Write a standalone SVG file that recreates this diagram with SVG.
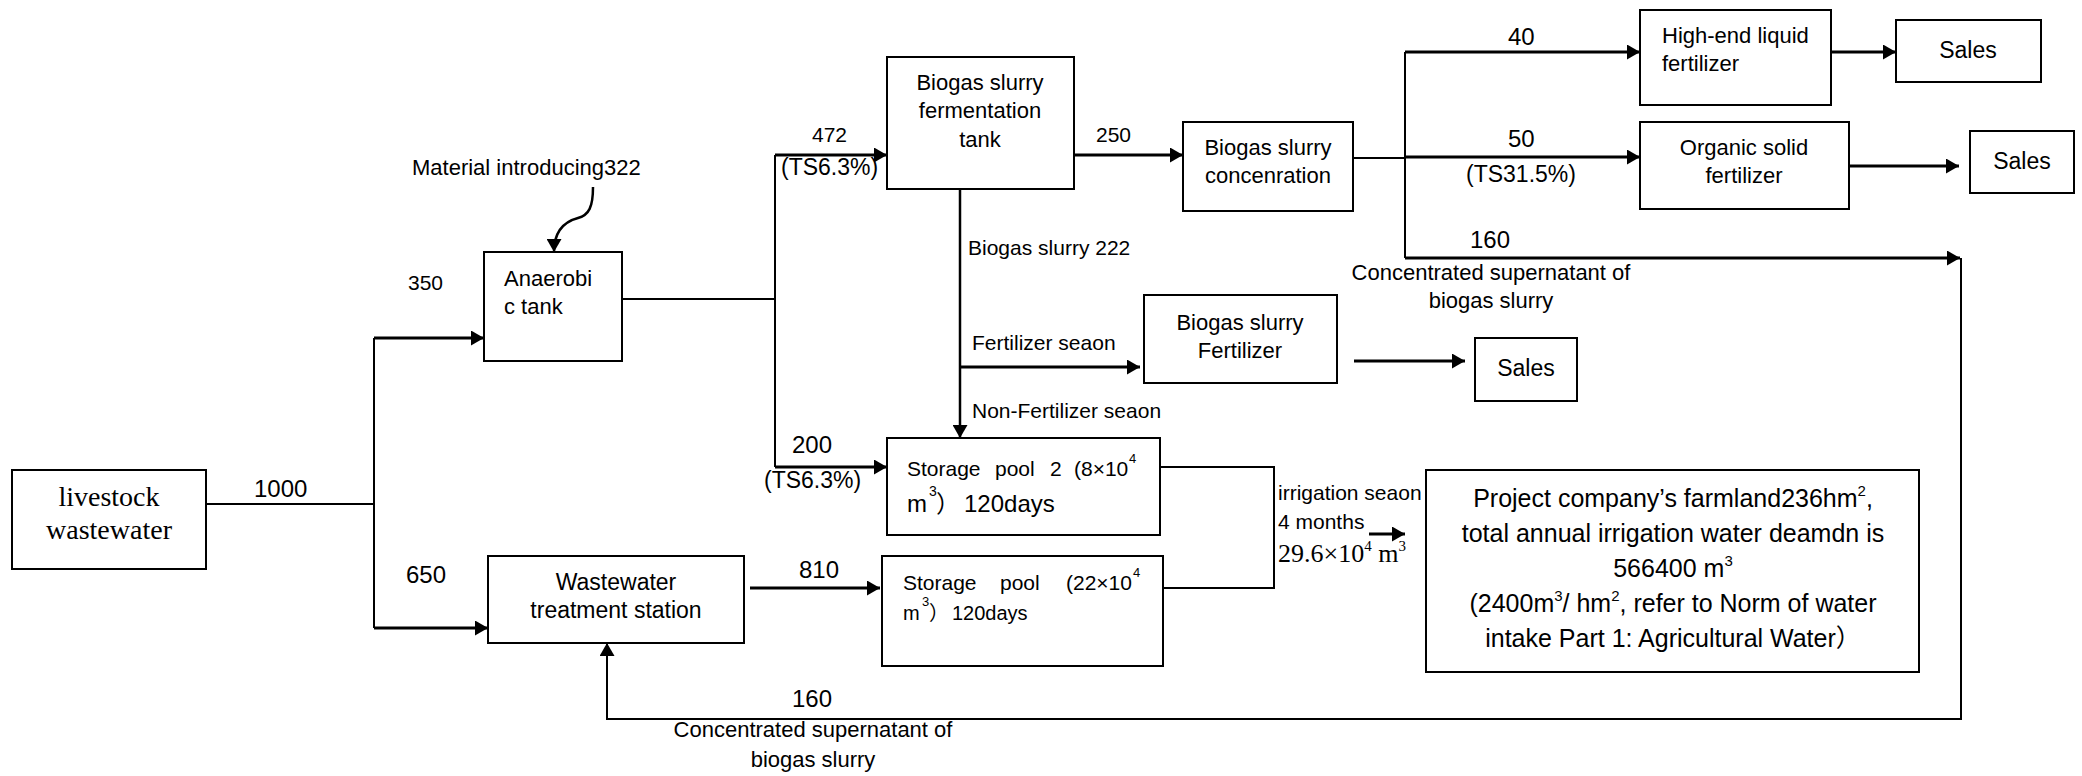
<svg xmlns="http://www.w3.org/2000/svg" width="2082" height="776" viewBox="0 0 2082 776">
<style>
.box{fill:#fff;stroke:#000;stroke-width:2}
.ln{fill:none;stroke:#000;stroke-width:2}
.ar{fill:none;stroke:#000;stroke-width:3;marker-end:url(#ah)}
text{font-family:"Liberation Sans","Noto Sans CJK SC",sans-serif;fill:#000}
.t22{font-size:22px}
.t21{font-size:21px}
.t24{font-size:24px}
.c{text-anchor:middle}
.serif{font-family:"Liberation Serif","Noto Serif CJK SC",serif}
</style>
<defs>
<marker id="ah" viewBox="0 0 13 15" refX="13" refY="7.5" markerWidth="13" markerHeight="15" markerUnits="userSpaceOnUse" orient="auto">
<path d="M0,0 L13,7.5 L0,15 z" fill="#000"/>
</marker>
</defs>
<rect width="2082" height="776" fill="#fff"/>

<g id="connectors">
<path class="ln" d="M206,504 H374"/>
<path class="ln" d="M374,338 V628"/>
<path class="ar" d="M374,338 H484"/>
<path class="ar" d="M374,628 H488"/>
<path class="ln" style="stroke-width:2.5;marker-end:url(#ah)" d="M593,187 C593,207 589,215 578,218 C563,222 554,232 554,252"/>
<path class="ln" d="M622,299 H775"/>
<path class="ln" d="M775,155 V467"/>
<path class="ar" d="M775,155 H887"/>
<path class="ar" d="M775,467 H887"/>
<path class="ar" d="M1074,155 H1183"/>
<path class="ar" style="stroke-width:2.5" d="M960,189 V438"/>
<path class="ar" d="M960,367 H1140"/>
<path class="ar" d="M1354,361 H1465"/>
<path class="ln" d="M1353,158 H1405"/>
<path class="ln" d="M1405,52 V258"/>
<path class="ar" d="M1405,52 H1640"/>
<path class="ar" d="M1405,157 H1640"/>
<path class="ar" d="M1831,52 H1896"/>
<path class="ar" d="M1849,166 H1959"/>
<path class="ar" d="M1405,258 H1960"/>
<path class="ln" style="marker-end:url(#ah)" d="M1961,258 V719 H607 V643"/>
<path class="ar" d="M750,588 H880"/>
<path class="ln" d="M1160,467 H1274 V588 H1163"/>
<path class="ar" d="M1369,534 H1405"/>
</g>

<g id="livestock">
<rect class="box" x="12" y="470" width="194" height="99"/>
<text class="serif c" x="109" y="506" font-size="28">livestock</text>
<text class="serif c" x="109" y="539" font-size="28">wastewater</text>
</g>

<g id="anaerobic">
<rect class="box" x="484" y="252" width="138" height="109"/>
<text class="t22" x="504" y="286">Anaerobi</text>
<text class="t22" x="504" y="314">c tank</text>
</g>

<g id="wastewater-station">
<rect class="box" x="488" y="556" width="256" height="87"/>
<text class="c" font-size="23" x="616" y="590">Wastewater</text>
<text class="c" font-size="23" x="616" y="618">treatment station</text>
</g>

<g id="fermentation">
<rect class="box" x="887" y="57" width="187" height="132"/>
<text class="t22 c" x="980" y="90">Biogas slurry</text>
<text class="t22 c" x="980" y="118">fermentation</text>
<text class="t22 c" x="980" y="147">tank</text>
</g>

<g id="concentration">
<rect class="box" x="1183" y="122" width="170" height="89"/>
<text class="t22 c" x="1268" y="155">Biogas slurry</text>
<text class="t22 c" x="1268" y="183">concenration</text>
</g>

<g id="high-end">
<rect class="box" x="1640" y="10" width="191" height="95"/>
<text class="t22" x="1662" y="43">High-end liquid</text>
<text class="t22" x="1662" y="71">fertilizer</text>
</g>

<g id="sales1">
<rect class="box" x="1896" y="20" width="145" height="62"/>
<text class="c" font-size="23" x="1968" y="58">Sales</text>
</g>

<g id="organic">
<rect class="box" x="1640" y="122" width="209" height="87"/>
<text class="t22 c" x="1744" y="155">Organic solid</text>
<text class="t22 c" x="1744" y="183">fertilizer</text>
</g>

<g id="sales2">
<rect class="box" x="1970" y="131" width="104" height="62"/>
<text class="c" font-size="23" x="2022" y="169">Sales</text>
</g>

<g id="biogas-fertilizer">
<rect class="box" x="1144" y="295" width="193" height="88"/>
<text class="t22 c" x="1240" y="330">Biogas slurry</text>
<text class="t22 c" x="1240" y="358">Fertilizer</text>
</g>

<g id="sales3">
<rect class="box" x="1475" y="338" width="102" height="63"/>
<text class="c" font-size="23" x="1526" y="376">Sales</text>
</g>

<g id="storage-pool-2">
<rect class="box" x="887" y="438" width="273" height="97"/>
<text class="t21" x="907" y="476">Storage</text>
<text class="t21" x="995" y="476">pool</text>
<text class="t21" x="1050" y="476">2</text>
<text class="t21" x="1074" y="476">(8×10</text>
<text font-size="13" x="1129" y="463">4</text>
<text class="t24" x="907" y="512">m</text>
<text font-size="14" x="929" y="496">3</text>
<text class="t24" x="936" y="512">）</text>
<text class="t24" x="964" y="512">120days</text>
</g>

<g id="storage-pool-22">
<rect class="box" x="882" y="556" width="281" height="110"/>
<text class="t21" x="903" y="590">Storage</text>
<text class="t21" x="1000" y="590">pool</text>
<text class="t21" x="1066" y="590">(22×10</text>
<text font-size="13" x="1133" y="577">4</text>
<text font-size="20" x="903" y="620">m</text>
<text font-size="13" x="922" y="606">3</text>
<text font-size="20" x="929" y="620">）</text>
<text font-size="20" x="952" y="620">120days</text>
</g>

<g id="farmland">
<rect class="box" x="1426" y="470" width="493" height="202"/>
<text class="c" font-size="25" x="1673" y="507">Project company’s farmland236hm<tspan dy="-11" font-size="15">2</tspan><tspan dy="11">,</tspan></text>
<text class="c" font-size="25" x="1673" y="542">total annual irrigation water deamdn is</text>
<text class="c" font-size="25" x="1673" y="577">566400 m<tspan dy="-11" font-size="15">3</tspan></text>
<text class="c" font-size="25" x="1673" y="612">(2400m<tspan dy="-11" font-size="15">3</tspan><tspan dy="11">/ hm</tspan><tspan dy="-11" font-size="15">2</tspan><tspan dy="11">, refer to Norm of water</tspan></text>
<text class="c" font-size="25" x="1673" y="647">intake Part 1: Agricultural Water）</text>
</g>

<g id="labels">
<text class="t22" x="412" y="175">Material introducing322</text>
<text class="t21" x="408" y="290">350</text>
<text class="t24" x="254" y="497">1000</text>
<text class="t24" x="406" y="583">650</text>
<text class="t21" x="812" y="142">472</text>
<text font-size="23" x="781" y="175">(TS6.3%)</text>
<text class="t21" x="1096" y="142">250</text>
<text class="t21" x="968" y="255">Biogas slurry 222</text>
<text class="t21" x="972" y="350">Fertilizer seaon</text>
<text class="t21" x="972" y="418">Non-Fertilizer seaon</text>
<text class="t24" x="792" y="453">200</text>
<text font-size="23" x="764" y="488">(TS6.3%)</text>
<text class="t24" x="799" y="578">810</text>
<text class="t24" x="1508" y="45">40</text>
<text class="t24" x="1508" y="147">50</text>
<text font-size="23" x="1466" y="182">(TS31.5%)</text>
<text class="t24" x="1470" y="248">160</text>
<text class="t22 c" x="1491" y="280">Concentrated supernatant of</text>
<text class="t22 c" x="1491" y="308">biogas slurry</text>
<text class="t24" x="792" y="707">160</text>
<text class="t22 c" x="813" y="737">Concentrated supernatant of</text>
<text class="t22 c" x="813" y="767">biogas slurry</text>
<text class="t21" x="1278" y="500">irrigation seaon</text>
<text class="t21" x="1278" y="529">4 months</text>
<text class="serif" font-size="26" x="1278" y="562">29.6×10<tspan dy="-11" font-size="15">4</tspan><tspan dy="11"> m</tspan><tspan dy="-11" font-size="15">3</tspan></text>
</g>
</svg>
